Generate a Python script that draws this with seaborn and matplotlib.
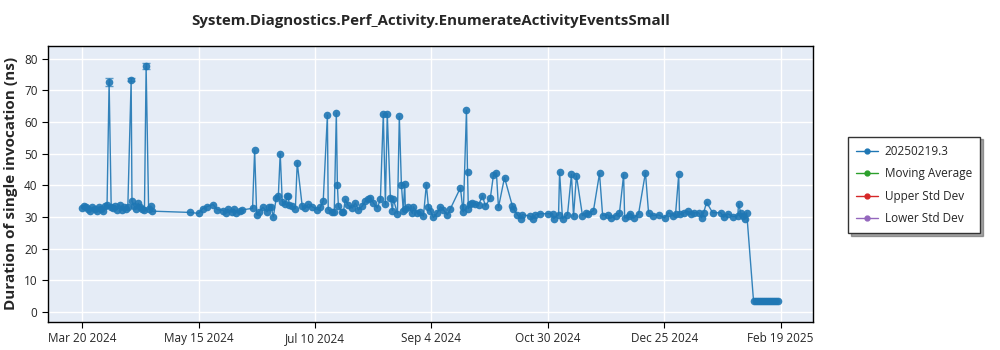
import matplotlib
matplotlib.use("Agg")
import matplotlib.pyplot as plt
import matplotlib.dates as mdates
from matplotlib.lines import Line2D
from matplotlib.ticker import FuncFormatter
import pandas as pd
import seaborn as sns

start = pd.Timestamp("2024-03-20")

# day offsets from Mar 20 2024
days = [
    0, 1, 2, 3, 4, 5, 6, 7, 8, 9,
    10, 11, 12, 13, 14, 15, 16, 17, 18, 19,
    20, 21, 22, 23.6, 24, 25, 26, 27, 28, 29,
    30, 30.8, 32, 33, 33.7, 52, 56, 58, 60, 63,
    65, 68, 69, 70, 72, 73, 74, 76, 77, 82,
    83, 84, 85, 87, 89, 90, 91, 92, 93.4, 94.4,
    95.3, 96.3, 97.7, 98.7, 99.2, 99.6, 101.1, 102.6, 103.5, 105.9,
    107.4, 108.8, 110.7, 113.1, 114.6, 116, 118, 118.4, 120.4, 121.3,
    122.3, 122.8, 123.3, 125.2, 125.7, 126.6, 128, 130, 131.4, 132.9,
    134.8, 136.3, 137.7, 138.7, 140.1, 142, 143.5, 144.9, 145.9, 146.8,
    148.3, 149.3, 149.7, 151.7, 152.6, 153.6, 154.5, 155.2, 155.5, 157,
    158.9, 159.4, 161.3, 162.7, 164.2, 165.6, 166.6, 167.5, 169, 170.9,
    172.4, 173.8, 175.7, 177.2, 182, 183, 183.4, 184.9, 185.4, 185.8,
    186.8, 187.8, 189.2, 190.7, 192.6, 194, 196.4, 197.9, 199.3, 200.3,
    203.2, 207, 207.5, 209.4, 210.9, 211.8, 215.7, 216.7, 218.1, 220.5,
    223.9, 226.3, 226.8, 229.2, 229.7, 231.1, 233.5, 235.4, 236.4, 237.8,
    240.7, 242.2, 243.6, 246, 248.9, 250.4, 252.8, 254.2, 256.6, 258.5,
    260.5, 261, 262.9, 263.8, 265.3, 267.7, 271, 272.5, 274.4, 277.3,
    280.2, 282.1, 284.1, 285.5, 287, 287.4, 289.4, 291.3, 292.7, 294.2,
    296.6, 298, 299, 300.4, 303.3, 307.2, 308.6, 310.5, 313, 315.4,
    315.8, 316.8, 317.8, 318.7, 319.7, 323, 324, 325, 326, 327,
    328, 329, 330, 331, 332, 333, 334, 335,
]

values = [
    32.8, 33.5, 33.2, 32.6, 32.0, 33.0, 32.4, 31.8, 33.1, 32.5,
    32.0, 33.4, 33.6, 72.6, 33.2, 32.8, 33.5, 32.3, 33.8, 32.1,
    33.0, 32.4, 33.2, 73.3, 34.9, 33.5, 32.6, 34.3, 33.0, 32.4,
    32.2, 77.6, 32.4, 33.4, 31.8, 31.4, 31.1, 32.6, 33.2, 33.9,
    32.3, 32.0, 31.2, 32.4, 31.5, 32.5, 31.3, 32.0, 32.2, 32.7,
    51.0, 30.7, 31.6, 33.0, 31.6, 33.0, 33.0, 30.0, 36.0, 36.6,
    50.0, 34.8, 34.0, 36.5, 36.7, 33.9, 33.4, 32.6, 47.1, 33.3,
    32.8, 34.0, 33.2, 32.3, 33.0, 35.1, 62.1, 32.3, 31.5, 31.5,
    62.8, 40.2, 33.3, 31.5, 31.5, 35.5, 33.6, 32.8, 34.4, 32.2,
    33.4, 35.0, 35.5, 36.0, 34.4, 32.8, 35.5, 62.6, 34.0, 62.6,
    36.0, 32.0, 35.7, 31.0, 61.7, 40.2, 32.0, 40.4, 32.6, 33.2,
    31.1, 33.2, 31.1, 31.6, 30.2, 40.2, 33.2, 32.0, 29.8, 31.3,
    33.2, 32.2, 30.6, 32.6, 39.2, 33.2, 31.6, 63.6, 44.3, 32.6,
    34.2, 34.4, 34.2, 33.7, 36.7, 33.4, 36.0, 43.3, 43.9, 33.0,
    42.4, 33.4, 32.5, 30.7, 29.4, 30.7, 30.2, 29.4, 30.7, 31.0,
    31.0, 31.0, 29.4, 30.7, 44.1, 29.4, 30.7, 43.4, 30.2, 43.0,
    30.4, 31.2, 31.0, 32.0, 43.7, 30.4, 30.7, 29.6, 30.4, 31.2,
    43.3, 29.6, 30.4, 31.0, 29.6, 31.0, 44.0, 31.2, 30.4, 30.6,
    29.7, 31.3, 30.4, 31.0, 43.4, 30.8, 31.3, 31.8, 30.9, 31.3,
    31.3, 29.7, 31.3, 34.6, 31.3, 31.3, 29.9, 31.0, 30.1, 30.3,
    34.2, 31.3, 30.3, 29.4, 31.3, 3.4, 3.3, 3.5, 3.3, 3.4,
    3.3, 3.4, 3.5, 3.3, 3.4, 3.3, 3.4, 3.3,
]

# error bars are only visible on the three early spikes
spike_days = [13, 23.6, 30.8]
spike_values = [72.6, 73.3, 77.6]
spike_err = [1.4, 0.4, 0.9]

legend_labels = ["20250219.3", "Moving Average", "Upper Std Dev", "Lower Std Dev"]
legend_colors = ["#1f77b4", "#2ca02c", "#d62728", "#9467bd"]

df = pd.DataFrame({"date": start + pd.to_timedelta(days, unit="D"), "value": values})
spikes = pd.DataFrame({"date": start + pd.to_timedelta(spike_days, unit="D"),
                       "value": spike_values, "err": spike_err})

sns.set_style("darkgrid", {"axes.facecolor": "#E5ECF6", "grid.color": "white"})
plt.rcParams["font.family"] = ["Open Sans", "DejaVu Sans"]

fig = plt.figure(figsize=(10, 3.5), dpi=100)
ax = fig.add_axes([0.048, 0.08, 0.765, 0.789])

sns.lineplot(data=df, x="date", y="value", ax=ax, color="#1f77b4", linewidth=1,
             marker="o", markersize=5.5, markeredgewidth=0, estimator=None,
             sort=False, alpha=0.9, legend=False)

ax.errorbar(spikes["date"], spikes["value"], yerr=spikes["err"], fmt="none",
            ecolor="#1f77b4", elinewidth=1, capsize=3, alpha=0.7)


def fmt_date(x, pos):
    d = mdates.num2date(x)
    return f"{d:%b} {d.day} {d.year}"


ticks = [start + pd.Timedelta(days=56 * i) for i in range(7)]
ax.set_xticks(ticks)
ax.xaxis.set_major_formatter(FuncFormatter(fmt_date))
ax.set_xlim(start - pd.Timedelta(days=16.4), start + pd.Timedelta(days=351.6))
ax.set_ylim(-3.2, 84)
ax.set_yticks(range(0, 81, 10))
ax.tick_params(axis="both", labelsize=8.5, length=4, color="black", bottom=True, left=True)
ax.grid(color="white", linewidth=1)
for s in ax.spines.values():
    s.set_visible(True)
    s.set_color("black")
    s.set_linewidth(1)

ax.set_xlabel("")
ax.set_ylabel("Duration of single invocation (ns)", fontsize=11, fontweight="bold")
ax.set_title("System.Diagnostics.Perf_Activity.EnumerateActivityEventsSmall",
             fontsize=10.8, fontweight="bold", pad=15)

handles = [Line2D([0], [0], color=c, marker="o", markersize=3.5, linewidth=1)
           for c in legend_colors]
leg = fig.legend(handles, legend_labels, loc="upper left", bbox_to_anchor=(0.848, 0.61),
                 borderaxespad=0, fontsize=8.5, frameon=True, fancybox=False,
                 shadow=True, facecolor="white", edgecolor="#333333", framealpha=1,
                 handlelength=1.8, handletextpad=0.6, labelspacing=0.8,
                 borderpad=0.7)
leg.get_frame().set_linewidth(1)

fig.savefig("out.png", dpi=100)
